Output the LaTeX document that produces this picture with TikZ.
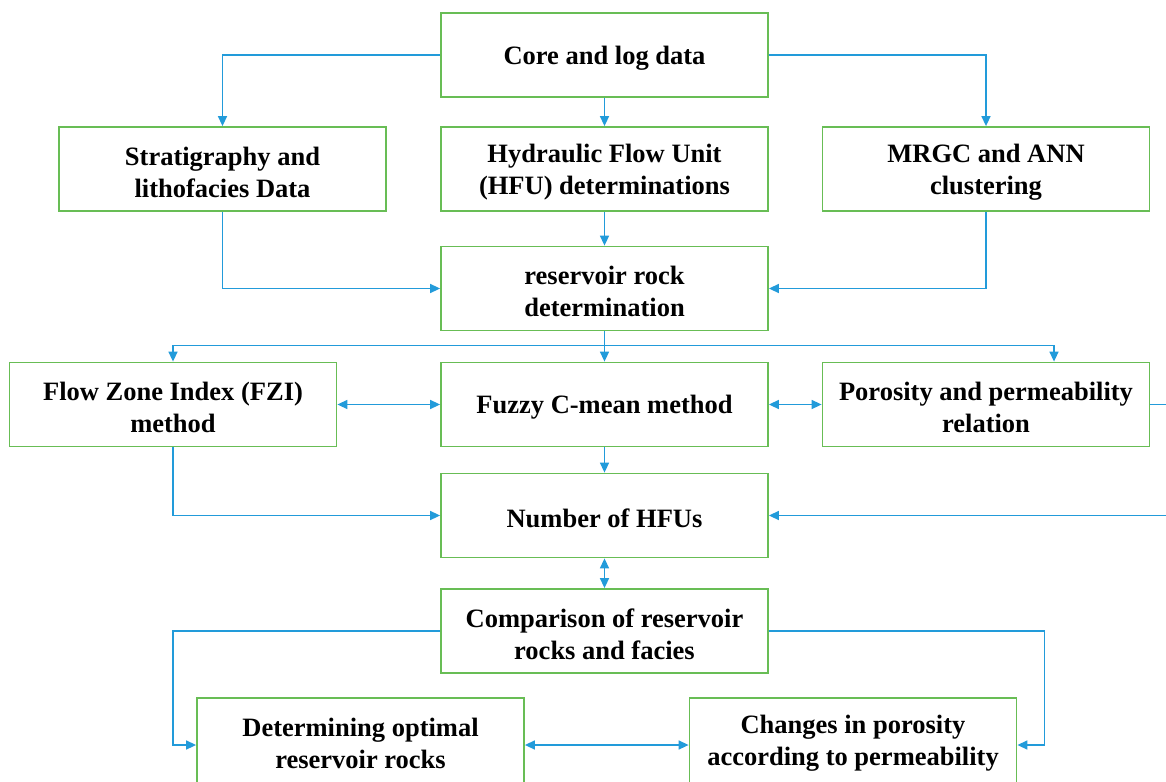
\documentclass[tikz,border=0pt]{standalone}
\usepackage{fontspec}
\setmainfont{Liberation Serif}
\usetikzlibrary{arrows.meta}
\definecolor{boxgreen}{RGB}{104,189,85}
\definecolor{arrblue}{RGB}{34,155,218}
\begin{document}
\begin{tikzpicture}[x=1pt,y=-1pt,
 lbl/.style={inner sep=0pt,align=center,yshift=-3pt,font=\fontsize{26.5}{32}\selectfont\bfseries},
 frame/.style={draw=boxgreen,line width=1.8pt,minimum width=327pt,minimum height=84pt,inner sep=0pt},
 box/.style={frame,label={[lbl]center:{#1}}},
 conn/.style={draw=arrblue,line width=1.5pt,-{Triangle[length=10pt,width=9pt]}},
 dconn/.style={draw=arrblue,line width=1.5pt,{Triangle[length=10pt,width=9pt]}-{Triangle[length=10pt,width=9pt]}},
 plain/.style={draw=arrblue,line width=1.5pt}]
\useasboundingbox[fill=white] (0,0) rectangle (1166,781);

\node[box={Core and log data}] (core) at (604.5,55) {};
\node[box={Stratigraphy and\\lithofacies Data}] (strat) at (222.5,169) {};
\node[box={Hydraulic Flow Unit\\(HFU) determinations}] (hfu) at (604.5,169) {};
\node[box={MRGC and ANN\\clustering}] (mrgc) at (986,169) {};
\node[box={reservoir rock\\determination}] (res) at (604.5,288.5) {};
\node[box={Flow Zone Index (FZI)\\method}] (fzi) at (173,404.5) {};
\node[box={Fuzzy C-mean method}] (fuzzy) at (604.5,404.5) {};
\node[box={Porosity and permeability\\relation}] (poro) at (986,404.5) {};
\node[box={Number of HFUs}] (num) at (604.5,515.5) {};
\node[box={Comparison of reservoir\\rocks and facies}] (comp) at (604.5,631) {};
\node[frame,minimum height=90pt,label={[lbl,yshift=3pt]center:{Determining optimal\\reservoir rocks}}] (det) at (360.5,743) {};
\node[frame,minimum height=90pt,label={[lbl,yshift=3pt]center:{Changes in porosity\\according to permeability}}] (chg) at (853,743) {};

\coordinate (split) at (604.5,345.5);
\coordinate (pbr) at (1054,345.5);
\coordinate (out) at (1195,404.5);
\coordinate (cl) at (173,631);
\coordinate (cr) at (1044.5,631);

\draw[conn] (core.west) -| (strat.north);
\draw[conn] (core.south) -- (hfu.north);
\draw[conn] (core.east) -| (mrgc.north);
\draw[conn] (strat.south) |- (res.west);
\draw[conn] (mrgc.south) |- (res.east);
\draw[conn] (hfu.south) -- (res.north);
\draw[plain] (res.south) -- (split);
\draw[conn] (split) -| (fzi.north);
\draw[conn] (split) -- (pbr) -- (pbr |- poro.north);
\draw[conn] (split) -- (fuzzy.north);
\draw[dconn] (fzi.east) -- (fuzzy.west);
\draw[dconn] (fuzzy.east) -- (poro.west);
\draw[conn] (fuzzy.south) -- (num.north);
\draw[conn] (fzi.south) |- (num.west);
\draw[conn] (poro.east) -- (out) |- (num.east);
\draw[dconn] (num.south) -- (comp.north);
\draw[conn] (comp.west) -- (cl) |- ([yshift=-2pt]det.west);
\draw[conn] (comp.east) -- (cr) |- ([yshift=-2pt]chg.east);
\draw[dconn] ([yshift=-2pt]det.east) -- ([yshift=-2pt]chg.west);
\end{tikzpicture}
\end{document}
